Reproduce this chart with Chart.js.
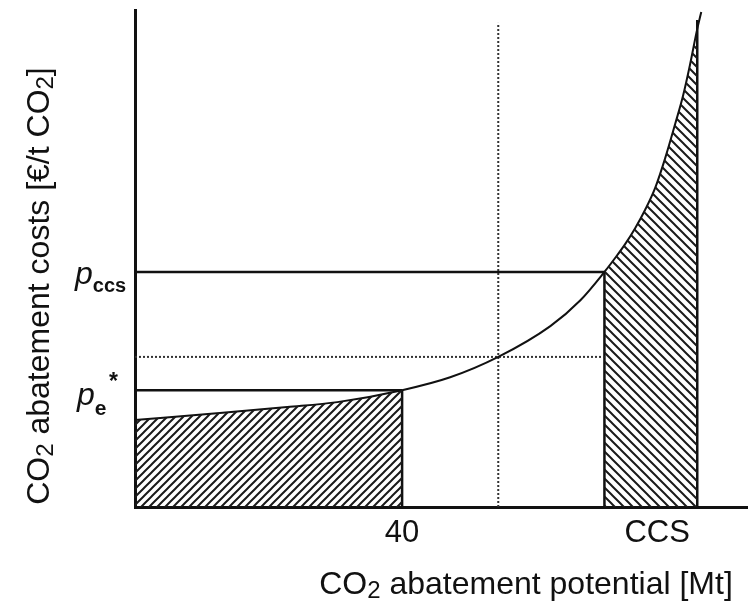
<!DOCTYPE html>
<html>
<head>
<meta charset="utf-8">
<script src="https://cdn.jsdelivr.net/npm/chart.js@4.4.0/dist/chart.umd.min.js"></script>
<style>
    html, body { margin: 0; padding: 0; background: #fff; }
    #wrap { width: 748px; height: 606px; }
</style>
</head>
<body>
<div id="wrap"><canvas id="c" width="748" height="606"></canvas></div>
<script>
// Courbe des coûts marginaux d'abattement
const curveX = [0, 12.7, 22.8, 30.3, 40, 47.2, 54.4, 62.2, 66.7, 70.3, 71.9, 73.4, 74.9, 76.4, 77.9, 79.4, 80.9, 82.1, 83.1, 84.2, 84.8];
const curveY = [17.5, 18.9, 20.1, 21.1, 23.5, 26.1, 30.2, 36.4, 41.6, 47.3, 50.1, 52.9, 56.1, 59.8, 64.2, 70.2, 77.1, 82.9, 88.9, 96.2, 99.6];

// Repères sur les axes
const xTickValues = [40, 78.2];
const xTickLabels = ['40', 'CCS'];
const qE = 40, qMid = 54.4, qCcs = 70.3, qMax = 84.2;
const pE = 23.5, pMid = 30.2, pCcs = 47.3;
const xMaxValue = 91.8, yMaxValue = 100;
const qMaxTop = 98, qMidTop = 97.4;

const FONT = '"Liberation Sans", Arial, sans-serif';
const INK = '#111';

const ctx = document.getElementById('c').getContext('2d');

// Motif hachuré ('/' ou '\')
function makeHatch(size, dir) {
    const c = document.createElement('canvas');
    c.width = size; c.height = size;
    const g = c.getContext('2d');
    g.strokeStyle = '#1a1a1a';
    g.lineWidth = 2;
    g.beginPath();
    if (dir === '/') {
        g.moveTo(-1, size + 1); g.lineTo(size + 1, -1);
        g.moveTo(-2, 2); g.lineTo(2, -2);
        g.moveTo(size - 2, size + 2); g.lineTo(size + 2, size - 2);
    } else {
        g.moveTo(-1, -1); g.lineTo(size + 1, size + 1);
        g.moveTo(size - 2, -2); g.lineTo(size + 2, 2);
        g.moveTo(-2, size - 2); g.lineTo(2, size + 2);
    }
    g.stroke();
    return ctx.createPattern(c, 'repeat');
}

const pts = (xs, ys) => xs.map((x, i) => ({ x: x, y: ys[i] }));
const curve = pts(curveX, curveY);
const leftArea = curve.filter(p => p.x <= qE);
const rightArea = curve.filter(p => p.x >= qCcs && p.x <= qMax);

const seg = (data, dashed) => ({
    data: data,
    borderColor: dashed ? '#333' : INK,
    borderWidth: dashed ? 2 : 2.5,
    borderDash: dashed ? [2, 2] : [],
    pointRadius: 0,
    tension: 0,
    fill: false
});

// Texte avec indices (CO2, p_ccs...)
function drawRich(c, parts, x, y, align) {
    let total = 0;
    parts.forEach(p => { c.font = p.font; p.w = c.measureText(p.text).width; total += p.w; });
    let cx = align === 'center' ? x - total / 2 : (align === 'right' ? x - total : x);
    c.textAlign = 'left';
    c.textBaseline = 'alphabetic';
    parts.forEach(p => {
        c.font = p.font;
        c.fillText(p.text, cx, y + (p.dy || 0));
        cx += p.w;
    });
}

const textPlugin = {
    id: 'annotText',
    afterDraw(chart) {
        const c = chart.ctx;
        const ys = chart.scales.y;
        c.save();
        c.fillStyle = INK;

        // Titre de l'axe des ordonnées
        c.save();
        c.translate(37, 286);
        c.rotate(-Math.PI / 2);
        drawRich(c, [
            { text: 'CO', font: '32px ' + FONT },
            { text: '2', font: '24px ' + FONT, dy: 4 },
            { text: ' abatement costs [€/t CO', font: '32px ' + FONT },
            { text: '2', font: '24px ' + FONT, dy: 4 },
            { text: ']', font: '32px ' + FONT }
        ], 0, 12, 'center');
        c.restore();

        // Titre de l'axe des abscisses
        drawRich(c, [
            { text: 'CO', font: '32px ' + FONT },
            { text: '2', font: '24px ' + FONT, dy: 4 },
            { text: ' abatement potential [Mt]', font: '32px ' + FONT }
        ], 526, 594, 'center');

        // p_ccs
        const yc = ys.getPixelForValue(pCcs);
        drawRich(c, [
            { text: 'p', font: 'italic 32px ' + FONT },
            { text: 'ccs', font: 'bold 20px ' + FONT, dy: 8 }
        ], 75, yc + 12, 'left');

        // p_e*
        const ye = ys.getPixelForValue(pE);
        drawRich(c, [
            { text: 'p', font: 'italic 32px ' + FONT },
            { text: 'e', font: 'bold 21px ' + FONT, dy: 10 }
        ], 77, ye + 15, 'left');
        c.font = 'bold 23px ' + FONT;
        c.fillText('*', 109, ye - 1);

        c.restore();
    }
};

new Chart(ctx, {
    type: 'line',
    data: {
        datasets: [
            {
                data: leftArea,
                borderWidth: 0,
                pointRadius: 0,
                cubicInterpolationMode: 'monotone',
                backgroundColor: makeHatch(8, '/'),
                fill: 'origin'
            },
            {
                data: rightArea,
                borderWidth: 0,
                pointRadius: 0,
                cubicInterpolationMode: 'monotone',
                backgroundColor: makeHatch(9, '\\'),
                fill: 'origin'
            },
            {
                data: curve,
                borderColor: INK,
                borderWidth: 2,
                pointRadius: 0,
                cubicInterpolationMode: 'monotone',
                fill: false
            },
            seg([{ x: 0, y: pCcs }, { x: qCcs, y: pCcs }], false),
            seg([{ x: 0, y: pMid }, { x: qCcs, y: pMid }], true),
            seg([{ x: 0, y: pE }, { x: qE, y: pE }], false),
            seg([{ x: qE, y: 0 }, { x: qE, y: pE }], false),
            seg([{ x: qMid, y: 0 }, { x: qMid, y: qMidTop }], true),
            seg([{ x: qCcs, y: 0 }, { x: qCcs, y: pCcs }], false),
            seg([{ x: qMax, y: 0 }, { x: qMax, y: qMaxTop }], false)
        ]
    },
    options: {
        responsive: false,
        animation: false,
        layout: { padding: { top: 10, left: 0, right: 0, bottom: 0 } },
        plugins: {
            legend: { display: false },
            tooltip: { enabled: false }
        },
        scales: {
            x: {
                type: 'linear',
                min: 0,
                max: xMaxValue,
                grid: { display: false, drawTicks: false },
                border: { display: true, color: INK, width: 3 },
                afterBuildTicks: s => { s.ticks = xTickValues.map(v => ({ value: v })); },
                afterFit: s => { s.height = 99; },
                ticks: {
                    autoSkip: false,
                    maxRotation: 0,
                    padding: 8,
                    color: INK,
                    font: { family: FONT, size: 31 },
                    callback: (v, i) => xTickLabels[i]
                }
            },
            y: {
                type: 'linear',
                min: 0,
                max: yMaxValue,
                grid: { display: false, drawTicks: false },
                border: { display: true, color: INK, width: 3 },
                ticks: { display: false },
                afterFit: s => { s.width = 135; }
            }
        }
    },
    plugins: [textPlugin]
});
</script>
</body>
</html>
